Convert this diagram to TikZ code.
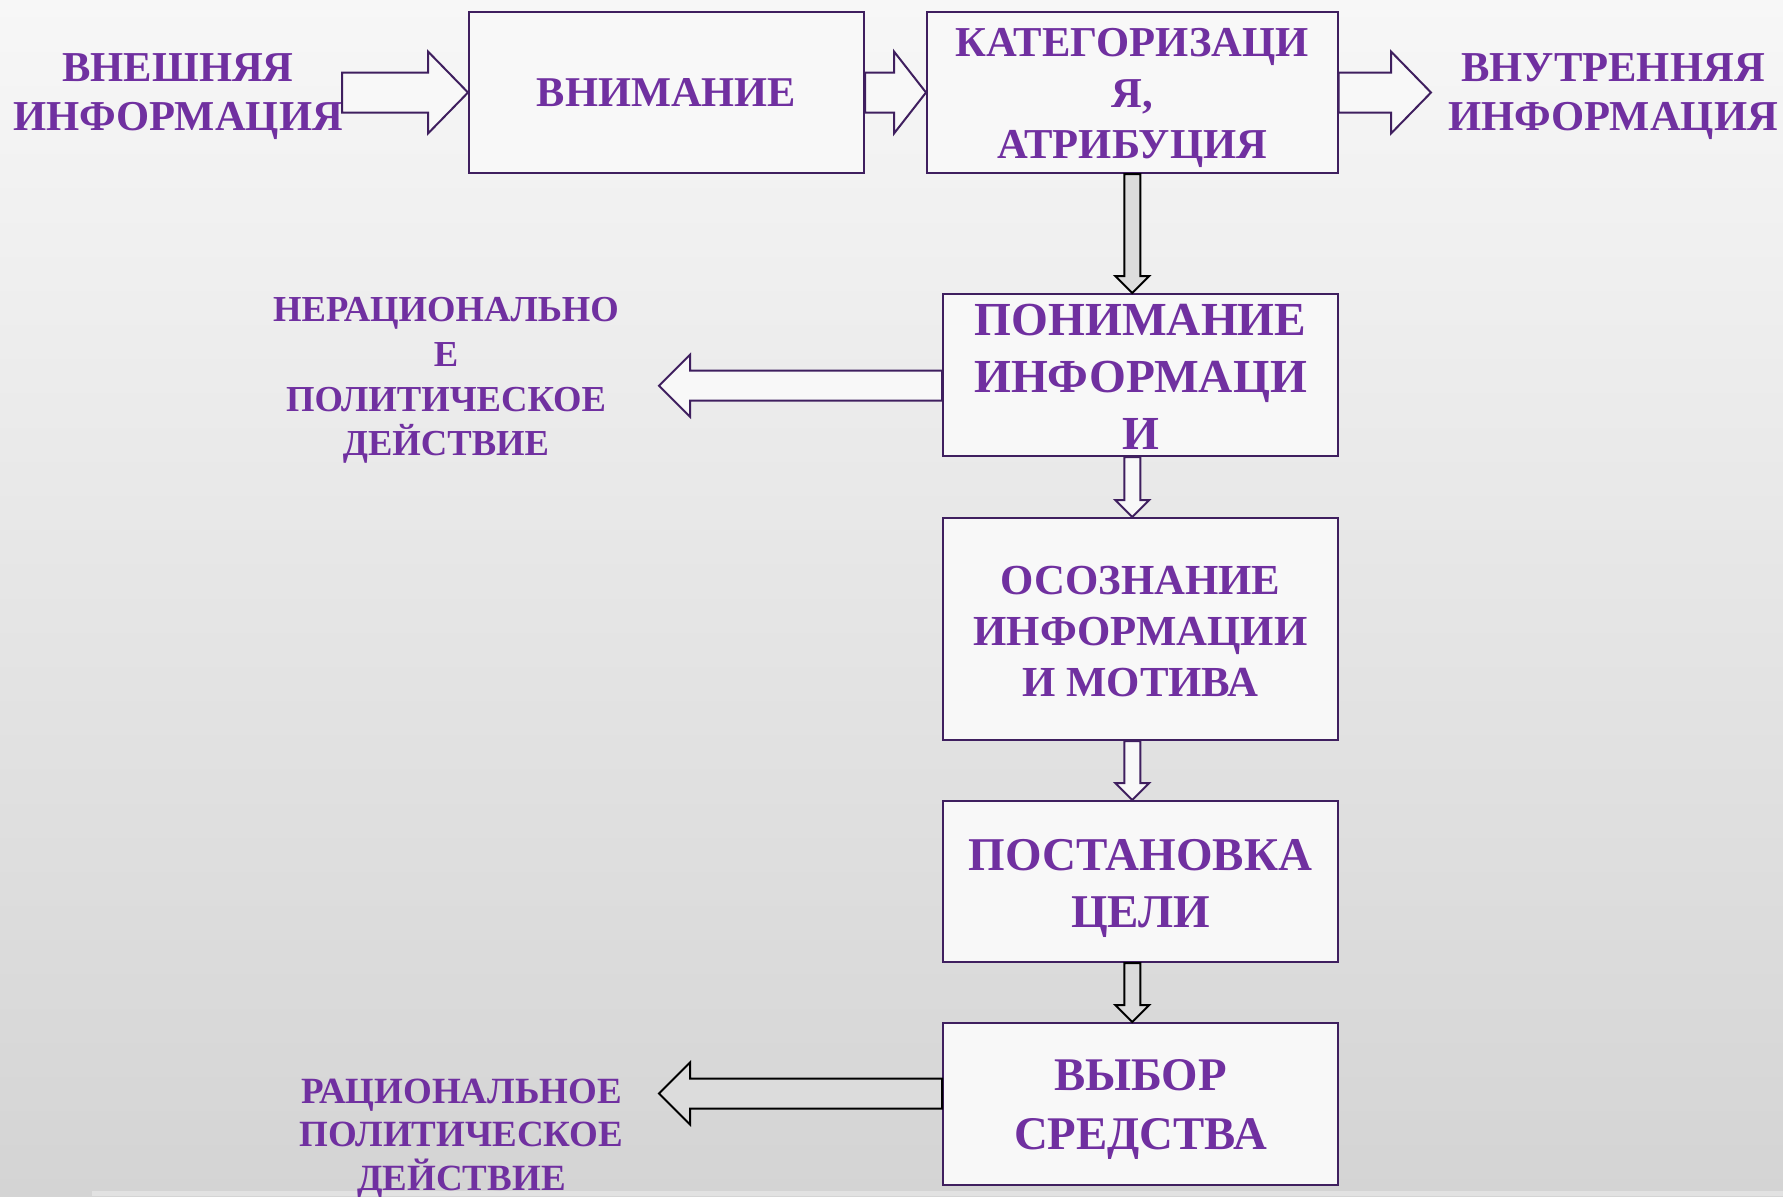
\documentclass[tikz,border=0pt]{standalone}
\usepackage{fontspec}
\setmainfont{Liberation Serif}
\usetikzlibrary{calc}
\definecolor{txt}{HTML}{7030A0}
\definecolor{edge}{HTML}{3F1F5F}
\definecolor{boxfill}{HTML}{F8F8F8}
\definecolor{greyfill}{HTML}{DCDCDC}
\definecolor{bgtop}{HTML}{F7F7F7}
\definecolor{bgbot}{HTML}{D4D4D4}
\definecolor{band}{HTML}{E2E2E2}
\tikzset{
  box/.style={draw=edge, line width=1pt, fill=boxfill, inner sep=0pt},
  lbl/.style={text=txt, align=center, inner sep=0pt},
  warr/.style={draw=edge, line width=1pt, fill=boxfill, line join=miter},
  garr/.style={draw=black, line width=1pt, fill=greyfill, line join=miter},
}
% right-pointing block arrow: tail, tip, head length, shaft half, head half, style
\newcommand\arrRight[6]{\draw[#6] let \p1=(#1), \p2=(#2) in
  (\x1,\y2+#4) -- (\x2-#3,\y2+#4) -- (\x2-#3,\y2+#5) -- (\x2,\y2) --
  (\x2-#3,\y2-#5) -- (\x2-#3,\y2-#4) -- (\x1,\y2-#4) -- cycle;}
% left-pointing block arrow
\newcommand\arrLeft[6]{\draw[#6] let \p1=(#1), \p2=(#2) in
  (\x1,\y2+#4) -- (\x2+#3,\y2+#4) -- (\x2+#3,\y2+#5) -- (\x2,\y2) --
  (\x2+#3,\y2-#5) -- (\x2+#3,\y2-#4) -- (\x1,\y2-#4) -- cycle;}
% down-pointing block arrow: x reference, tail, tip, style
\newcommand\arrDown[4]{\draw[#4] let \p0=(#1), \p1=(#2), \p2=(#3) in
  (\x0-4pt,\y1) -- (\x0-4pt,\y2+8.5pt) -- (\x0-8.5pt,\y2+8.5pt) -- (\x0,\y2) --
  (\x0+8.5pt,\y2+8.5pt) -- (\x0+4pt,\y2+8.5pt) -- (\x0+4pt,\y1) -- cycle;}
\begin{document}
\begin{tikzpicture}[x=0.5pt, y=-0.5pt]
\useasboundingbox (0,0) rectangle (1783,1196);
\shade[top color=bgtop, bottom color=bgbot] (0,0) rectangle (1783,1196);
\fill[band] (92,1191) rectangle (1783,1196);

% boxes
\node[box, minimum width=197.5pt, minimum height=80.5pt] (vn) at (666.5,92.5) {};
\node[box, minimum width=205.25pt, minimum height=80.5pt] (kat) at (1132.25,92.5) {};
\node[box, minimum width=197.5pt, minimum height=81pt] (pon) at (1140.5,375) {};
\node[box, minimum width=197.5pt, minimum height=111pt] (osz) at (1140.5,629) {};
\node[box, minimum width=197.5pt, minimum height=80.5pt] (pst) at (1140.5,881.5) {};
\node[box, minimum width=197.5pt, minimum height=81pt] (vyb) at (1140.5,1104) {};

% box texts
\node[lbl, font={\bfseries\fontsize{21.2pt}{25pt}\selectfont}] (vnT) at ($(vn)+(0,0)$) {ВНИМАНИЕ};
\node[lbl, font={\bfseries\fontsize{21.3pt}{25.5pt}\selectfont}] (katT) at ($(kat)+(0,5.7)$) {КАТЕГОРИЗАЦИ\\Я,\\АТРИБУЦИЯ};
\node[lbl, font={\bfseries\fontsize{23.7pt}{28.5pt}\selectfont}] (ponT) at ($(pon)+(0,1.5)$) {ПОНИМАНИЕ\\ИНФОРМАЦИ\\И};
\node[lbl, font={\bfseries\fontsize{21.4pt}{25.5pt}\selectfont}] (oszT) at ($(osz)+(0,2.5)$) {ОСОЗНАНИЕ\\ИНФОРМАЦИИ\\И МОТИВА};
\node[lbl, font={\bfseries\fontsize{23.5pt}{28.5pt}\selectfont}] (pstT) at ($(pst)+(0,6.8)$) {ПОСТАНОВКА\\ЦЕЛИ};
\node[lbl, font={\bfseries\fontsize{23.4pt}{29.5pt}\selectfont}] (vybT) at ($(vyb)+(0,5.7)$) {ВЫБОР\\СРЕДСТВА};

% free labels
\node[lbl, font={\bfseries\fontsize{21.3pt}{24.5pt}\selectfont}] (ext) at (178,97) {ВНЕШНЯЯ\\ИНФОРМАЦИЯ};
\node[lbl, font={\bfseries\fontsize{21.3pt}{24.5pt}\selectfont}] (int) at (1613,97) {ВНУТРЕННЯЯ\\ИНФОРМАЦИЯ};
\node[lbl, font={\bfseries\fontsize{18.3pt}{22.3pt}\selectfont}] (irr) at (446,380.5) {НЕРАЦИОНАЛЬНО\\Е\\ПОЛИТИЧЕСКОЕ\\ДЕЙСТВИЕ};
\node[lbl, font={\bfseries\fontsize{18.5pt}{21.9pt}\selectfont}] (rat) at (461.5,1138.5) {РАЦИОНАЛЬНОЕ\\ПОЛИТИЧЕСКОЕ\\ДЕЙСТВИЕ};

% arrow end points
\coordinate (inT) at (342,92.5);
\coordinate (outT) at (1431,92.5);
\coordinate (irrT) at (659,385.7);
\coordinate (ratT) at (659,1093.5);

% horizontal arrows
\arrRight{inT}{vn.west}{20pt}{10pt}{20.5pt}{warr}
\arrRight{vn.east}{kat.west}{16pt}{10pt}{20.5pt}{warr}
\arrRight{kat.east}{outT}{20pt}{10pt}{20.5pt}{warr}
\arrLeft{pon.west}{irrT}{15.5pt}{7.5pt}{15.5pt}{warr}
\arrLeft{vyb.west}{ratT}{15.5pt}{7.5pt}{15.5pt}{garr}

% vertical arrows
\arrDown{kat.south}{kat.south}{pon.north}{garr}
\arrDown{kat.south}{pon.south}{osz.north}{warr}
\arrDown{kat.south}{osz.south}{pst.north}{warr}
\arrDown{kat.south}{pst.south}{vyb.north}{garr}
\end{tikzpicture}
\end{document}
